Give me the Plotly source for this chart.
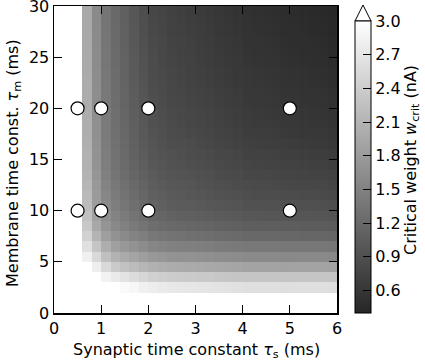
import plotly.graph_objects as go

# Synaptic time constant tau_s (ms): cell centres
tau_s = [0.1, 0.3, 0.5, 0.7, 0.9, 1.1, 1.3, 1.5, 1.7, 1.9,
         2.1, 2.3, 2.5, 2.7, 2.9, 3.1, 3.3, 3.5, 3.7, 3.9,
         4.1, 4.3, 4.5, 4.7, 4.9, 5.1, 5.3, 5.5, 5.7, 5.9]
# Membrane time constant tau_m (ms): cell centres
tau_m = [0.5, 1.5, 2.5, 3.5, 4.5, 5.5, 6.5, 7.5, 8.5, 9.5,
         10.5, 11.5, 12.5, 13.5, 14.5, 15.5, 16.5, 17.5, 18.5, 19.5,
         20.5, 21.5, 22.5, 23.5, 24.5, 25.5, 26.5, 27.5, 28.5, 29.5]

# Critical weight w_crit (nA), one row per tau_m (bottom to top)
w_crit = [
    [30, 20, 15, 9.0, 8.0, 7.5, 7.0, 6.8, 6.5, 6.2, 6.0, 6.0, 6.0, 6.0, 6.0, 6.0, 6.0, 6.0, 6.0, 6.0, 6.0, 6.0, 6.0, 6.0, 6.0, 6.0, 6.0, 6.0, 6.0, 6.0],
    [15, 9.0, 7.0, 5.5, 4.8, 4.4, 4.2, 4.0, 3.8, 3.6, 3.4, 3.4, 3.4, 3.4, 3.4, 3.4, 3.4, 3.4, 3.4, 3.4, 3.4, 3.4, 3.4, 3.4, 3.4, 3.4, 3.4, 3.4, 3.4, 3.4],
    [13, 7.0, 5.0, 4.0, 3.6, 3.3, 3.15, 2.94, 2.90, 2.82, 2.78, 2.75, 2.72, 2.71, 2.70, 2.69, 2.68, 2.66, 2.65, 2.64, 2.62, 2.62, 2.62, 2.62, 2.61, 2.62, 2.62, 2.62, 2.62, 2.61],
    [12, 6.2, 4.3, 3.4, 3.1, 2.85, 2.75, 2.66, 2.58, 2.51, 2.44, 2.41, 2.39, 2.38, 2.37, 2.35, 2.35, 2.33, 2.32, 2.31, 2.30, 2.30, 2.30, 2.30, 2.30, 2.30, 2.30, 2.30, 2.31, 2.30],
    [11, 5.6, 3.8, 3.05, 2.80, 2.54, 2.37, 2.27, 2.20, 2.13, 2.06, 2.03, 2.00, 1.99, 1.98, 1.97, 1.96, 1.94, 1.93, 1.92, 1.90, 1.90, 1.90, 1.90, 1.89, 1.90, 1.90, 1.90, 1.90, 1.89],
    [10.5, 5.2, 3.4, 2.82, 2.54, 2.25, 2.08, 1.98, 1.91, 1.84, 1.77, 1.74, 1.71, 1.70, 1.69, 1.67, 1.66, 1.64, 1.63, 1.62, 1.60, 1.60, 1.60, 1.60, 1.59, 1.59, 1.59, 1.59, 1.59, 1.58],
    [10.5, 5.2, 3.4, 2.63, 2.30, 2.03, 1.86, 1.77, 1.70, 1.62, 1.55, 1.52, 1.49, 1.48, 1.47, 1.45, 1.44, 1.42, 1.41, 1.40, 1.38, 1.38, 1.38, 1.38, 1.37, 1.37, 1.37, 1.37, 1.37, 1.36],
    [10.5, 5.2, 3.4, 2.46, 2.10, 1.84, 1.70, 1.60, 1.52, 1.46, 1.38, 1.35, 1.32, 1.31, 1.29, 1.27, 1.26, 1.24, 1.23, 1.22, 1.19, 1.19, 1.19, 1.19, 1.18, 1.18, 1.17, 1.17, 1.17, 1.16],
    [10.5, 5.2, 3.4, 2.34, 1.96, 1.72, 1.59, 1.49, 1.41, 1.34, 1.26, 1.23, 1.20, 1.19, 1.17, 1.15, 1.14, 1.12, 1.11, 1.10, 1.07, 1.07, 1.07, 1.07, 1.06, 1.06, 1.05, 1.05, 1.05, 1.04],
    [10.5, 5.2, 3.4, 2.26, 1.89, 1.65, 1.52, 1.42, 1.34, 1.26, 1.18, 1.15, 1.12, 1.10, 1.09, 1.07, 1.06, 1.04, 1.02, 1.01, 0.99, 0.99, 0.98, 0.98, 0.97, 0.97, 0.97, 0.96, 0.96, 0.95],
    [10.5, 5.2, 3.4, 2.20, 1.83, 1.59, 1.46, 1.36, 1.28, 1.20, 1.12, 1.09, 1.05, 1.04, 1.03, 1.01, 0.99, 0.97, 0.96, 0.95, 0.92, 0.92, 0.92, 0.92, 0.90, 0.90, 0.90, 0.90, 0.89, 0.88],
    [10.5, 5.2, 3.4, 2.16, 1.79, 1.55, 1.42, 1.32, 1.24, 1.17, 1.09, 1.06, 1.02, 1.01, 0.99, 0.97, 0.95, 0.93, 0.92, 0.90, 0.88, 0.87, 0.87, 0.87, 0.85, 0.85, 0.84, 0.84, 0.83, 0.82],
    [10.5, 5.2, 3.4, 2.13, 1.76, 1.52, 1.38, 1.29, 1.20, 1.13, 1.06, 1.02, 0.99, 0.97, 0.96, 0.93, 0.92, 0.89, 0.88, 0.86, 0.84, 0.83, 0.83, 0.82, 0.81, 0.80, 0.80, 0.79, 0.79, 0.77],
    [10.5, 5.2, 3.4, 2.09, 1.73, 1.48, 1.35, 1.25, 1.17, 1.10, 1.03, 0.99, 0.96, 0.94, 0.93, 0.90, 0.89, 0.86, 0.84, 0.83, 0.80, 0.80, 0.79, 0.78, 0.77, 0.76, 0.76, 0.75, 0.75, 0.73],
    [10.5, 5.2, 3.4, 2.07, 1.71, 1.46, 1.32, 1.23, 1.14, 1.07, 1.00, 0.96, 0.93, 0.91, 0.89, 0.87, 0.85, 0.83, 0.81, 0.79, 0.77, 0.76, 0.75, 0.75, 0.73, 0.73, 0.72, 0.71, 0.71, 0.69],
    [10.5, 5.2, 3.4, 2.06, 1.70, 1.44, 1.31, 1.22, 1.12, 1.05, 0.98, 0.94, 0.91, 0.89, 0.87, 0.85, 0.83, 0.80, 0.79, 0.77, 0.74, 0.73, 0.73, 0.72, 0.70, 0.70, 0.69, 0.68, 0.68, 0.66],
    [10.5, 5.2, 3.4, 2.04, 1.68, 1.43, 1.30, 1.20, 1.11, 1.02, 0.96, 0.92, 0.88, 0.87, 0.85, 0.82, 0.80, 0.77, 0.76, 0.74, 0.71, 0.70, 0.69, 0.69, 0.67, 0.66, 0.65, 0.64, 0.64, 0.62],
    [10.5, 5.2, 3.4, 2.03, 1.67, 1.42, 1.29, 1.19, 1.10, 1.01, 0.94, 0.90, 0.86, 0.84, 0.82, 0.80, 0.78, 0.75, 0.73, 0.71, 0.68, 0.67, 0.67, 0.66, 0.64, 0.63, 0.62, 0.61, 0.61, 0.59],
    [10.5, 5.2, 3.4, 2.02, 1.67, 1.41, 1.28, 1.18, 1.08, 1.00, 0.92, 0.88, 0.84, 0.82, 0.80, 0.78, 0.76, 0.73, 0.71, 0.69, 0.66, 0.65, 0.65, 0.64, 0.62, 0.61, 0.60, 0.59, 0.59, 0.57],
    [10.5, 5.2, 3.4, 2.02, 1.66, 1.41, 1.28, 1.17, 1.07, 0.99, 0.91, 0.87, 0.83, 0.81, 0.79, 0.77, 0.75, 0.72, 0.70, 0.68, 0.65, 0.64, 0.63, 0.62, 0.60, 0.60, 0.59, 0.58, 0.57, 0.55],
    [10.5, 5.2, 3.4, 2.01, 1.65, 1.40, 1.26, 1.16, 1.06, 0.98, 0.89, 0.85, 0.81, 0.79, 0.77, 0.75, 0.73, 0.70, 0.68, 0.66, 0.63, 0.62, 0.61, 0.60, 0.58, 0.58, 0.57, 0.56, 0.55, 0.53],
    [10.5, 5.2, 3.4, 2.00, 1.65, 1.38, 1.25, 1.16, 1.05, 0.96, 0.88, 0.84, 0.80, 0.78, 0.76, 0.74, 0.72, 0.69, 0.67, 0.65, 0.62, 0.61, 0.60, 0.59, 0.57, 0.57, 0.56, 0.55, 0.54, 0.52],
    [10.5, 5.2, 3.4, 2.00, 1.64, 1.38, 1.25, 1.14, 1.04, 0.95, 0.87, 0.83, 0.79, 0.77, 0.75, 0.72, 0.70, 0.67, 0.65, 0.63, 0.61, 0.60, 0.59, 0.58, 0.56, 0.55, 0.54, 0.53, 0.52, 0.50],
    [10.5, 5.2, 3.4, 1.98, 1.64, 1.37, 1.24, 1.13, 1.02, 0.94, 0.86, 0.82, 0.78, 0.76, 0.74, 0.71, 0.69, 0.66, 0.64, 0.62, 0.60, 0.59, 0.58, 0.57, 0.55, 0.54, 0.53, 0.52, 0.51, 0.49],
    [10.5, 5.2, 3.4, 1.98, 1.62, 1.36, 1.23, 1.13, 1.02, 0.93, 0.85, 0.81, 0.77, 0.75, 0.73, 0.70, 0.68, 0.65, 0.63, 0.61, 0.58, 0.57, 0.56, 0.55, 0.53, 0.52, 0.51, 0.50, 0.49, 0.47],
    [10.5, 5.2, 3.4, 1.97, 1.62, 1.36, 1.23, 1.12, 1.01, 0.92, 0.84, 0.80, 0.76, 0.74, 0.72, 0.69, 0.67, 0.64, 0.62, 0.60, 0.57, 0.56, 0.55, 0.54, 0.52, 0.51, 0.50, 0.49, 0.48, 0.46],
    [10.5, 5.2, 3.4, 1.97, 1.61, 1.35, 1.22, 1.11, 1.00, 0.90, 0.83, 0.79, 0.75, 0.73, 0.71, 0.68, 0.66, 0.63, 0.61, 0.59, 0.56, 0.55, 0.54, 0.53, 0.51, 0.50, 0.49, 0.48, 0.47, 0.45],
    [10.5, 5.2, 3.4, 1.96, 1.61, 1.35, 1.22, 1.11, 1.00, 0.89, 0.82, 0.78, 0.74, 0.72, 0.70, 0.67, 0.65, 0.62, 0.60, 0.58, 0.55, 0.54, 0.53, 0.52, 0.50, 0.49, 0.48, 0.47, 0.46, 0.44],
    [10.5, 5.2, 3.4, 1.96, 1.60, 1.34, 1.20, 1.10, 0.99, 0.89, 0.81, 0.77, 0.73, 0.71, 0.69, 0.66, 0.64, 0.61, 0.59, 0.57, 0.54, 0.53, 0.52, 0.51, 0.49, 0.48, 0.47, 0.46, 0.45, 0.43],
    [10.5, 5.2, 3.4, 1.96, 1.60, 1.34, 1.20, 1.10, 0.99, 0.88, 0.80, 0.76, 0.72, 0.70, 0.68, 0.65, 0.63, 0.60, 0.58, 0.56, 0.53, 0.52, 0.51, 0.50, 0.48, 0.47, 0.46, 0.45, 0.44, 0.42],
]

# Simulated parameter combinations (markers)
pts_tau_s = [0.5, 1, 2, 5, 0.5, 1, 2, 5]
pts_tau_m = [10, 10, 10, 10, 20, 20, 20, 20]

# Colour bar ticks
cbar_ticks = [0.6, 0.9, 1.2, 1.5, 1.8, 2.1, 2.4, 2.7, 3.0]
cbar_ticktext = ["0.6", "0.9", "1.2", "1.5", "1.8", "2.1", "2.4", "2.7", "3.0"]
x_ticks = [0, 1, 2, 3, 4, 5, 6]
y_ticks = [0, 5, 10, 15, 20, 25, 30]

x_title = "Synaptic time constant <i>τ</i><sub>s</sub> (ms)"
y_title = "Membrane time const. <i>τ</i><sub>m</sub> (ms)"
c_title = "Critical weight <i>w</i><sub>crit</sub> (nA)"

FONT = "DejaVu Sans"
FS = 16
W, H = 425, 360
L, R, T, B = 54, 88, 6, 47
pw, ph = W - L - R, H - T - B

def px_x(p):
    return (p - L) / pw

def px_y(p):
    return (H - B - p) / ph

cb_left, cb_thick, cb_top, cb_tip = 355, 16, 21, 5

fig = go.Figure()
fig.add_trace(go.Heatmap(
    x=tau_s, y=tau_m, z=w_crit,
    zmin=0.4, zmax=3.0,
    colorscale=[[0, "#262626"], [1, "#ffffff"]],
    colorbar=dict(
        x=px_x(cb_left), xanchor="left", xpad=0,
        y=0, yanchor="bottom", ypad=0,
        len=(H - B - cb_top) / ph, lenmode="fraction",
        thickness=cb_thick, thicknessmode="pixels",
        outlinewidth=1, outlinecolor="black",
        ticks="inside", ticklen=8, tickwidth=1, tickcolor="black",
        tickvals=cbar_ticks, ticktext=cbar_ticktext,
        tickfont=dict(family=FONT, size=FS, color="black"),
    ),
    hoverinfo="skip",
))
fig.add_trace(go.Scatter(
    x=pts_tau_s, y=pts_tau_m, mode="markers",
    marker=dict(size=13, color="white", line=dict(color="black", width=1.2)),
    showlegend=False, cliponaxis=False, hoverinfo="skip",
))

axis_common = dict(
    showline=True, linecolor="black", linewidth=1.5, mirror="ticks",
    ticks="inside", ticklen=8, tickwidth=1, tickcolor="black",
    showgrid=False, zeroline=False, automargin=False,
    ticklabeloverflow="allow",
    tickfont=dict(family=FONT, size=FS, color="black"),
)
fig.update_xaxes(range=[0, 6], tickvals=x_ticks, **axis_common)
fig.update_yaxes(range=[0, 30], tickvals=y_ticks, **axis_common)

xl, xr = px_x(cb_left), px_x(cb_left + cb_thick)
xm = (xl + xr) / 2
yb, yt = px_y(cb_top), px_y(cb_tip)
fig.add_shape(type="path", xref="paper", yref="paper",
              path=f"M {xl},{yb} L {xm},{yt} L {xr},{yb} Z",
              fillcolor="white", line=dict(color="black", width=1))

tfont = dict(family=FONT, size=FS, color="black")
fig.add_annotation(text=x_title, xref="paper", yref="paper",
                   x=px_x(196), y=px_y(350), xanchor="center", yanchor="middle",
                   showarrow=False, font=tfont)
fig.add_annotation(text=y_title, xref="paper", yref="paper",
                   x=px_x(13), y=px_y(163), xanchor="center", yanchor="middle",
                   textangle=-90, showarrow=False, font=tfont)
fig.add_annotation(text=c_title, xref="paper", yref="paper",
                   x=px_x(411), y=px_y(160), xanchor="center", yanchor="middle",
                   textangle=-90, showarrow=False, font=tfont)

fig.update_layout(
    width=W, height=H,
    margin=dict(l=L, r=R, t=T, b=B),
    paper_bgcolor="white", plot_bgcolor="white",
    font=dict(family=FONT, size=FS, color="black"),
    showlegend=False,
)
fig.write_html("out.html",
               config={"displayModeBar": False, "staticPlot": True},
               post_script="document.body.style.margin='0';document.body.style.padding='0';")
